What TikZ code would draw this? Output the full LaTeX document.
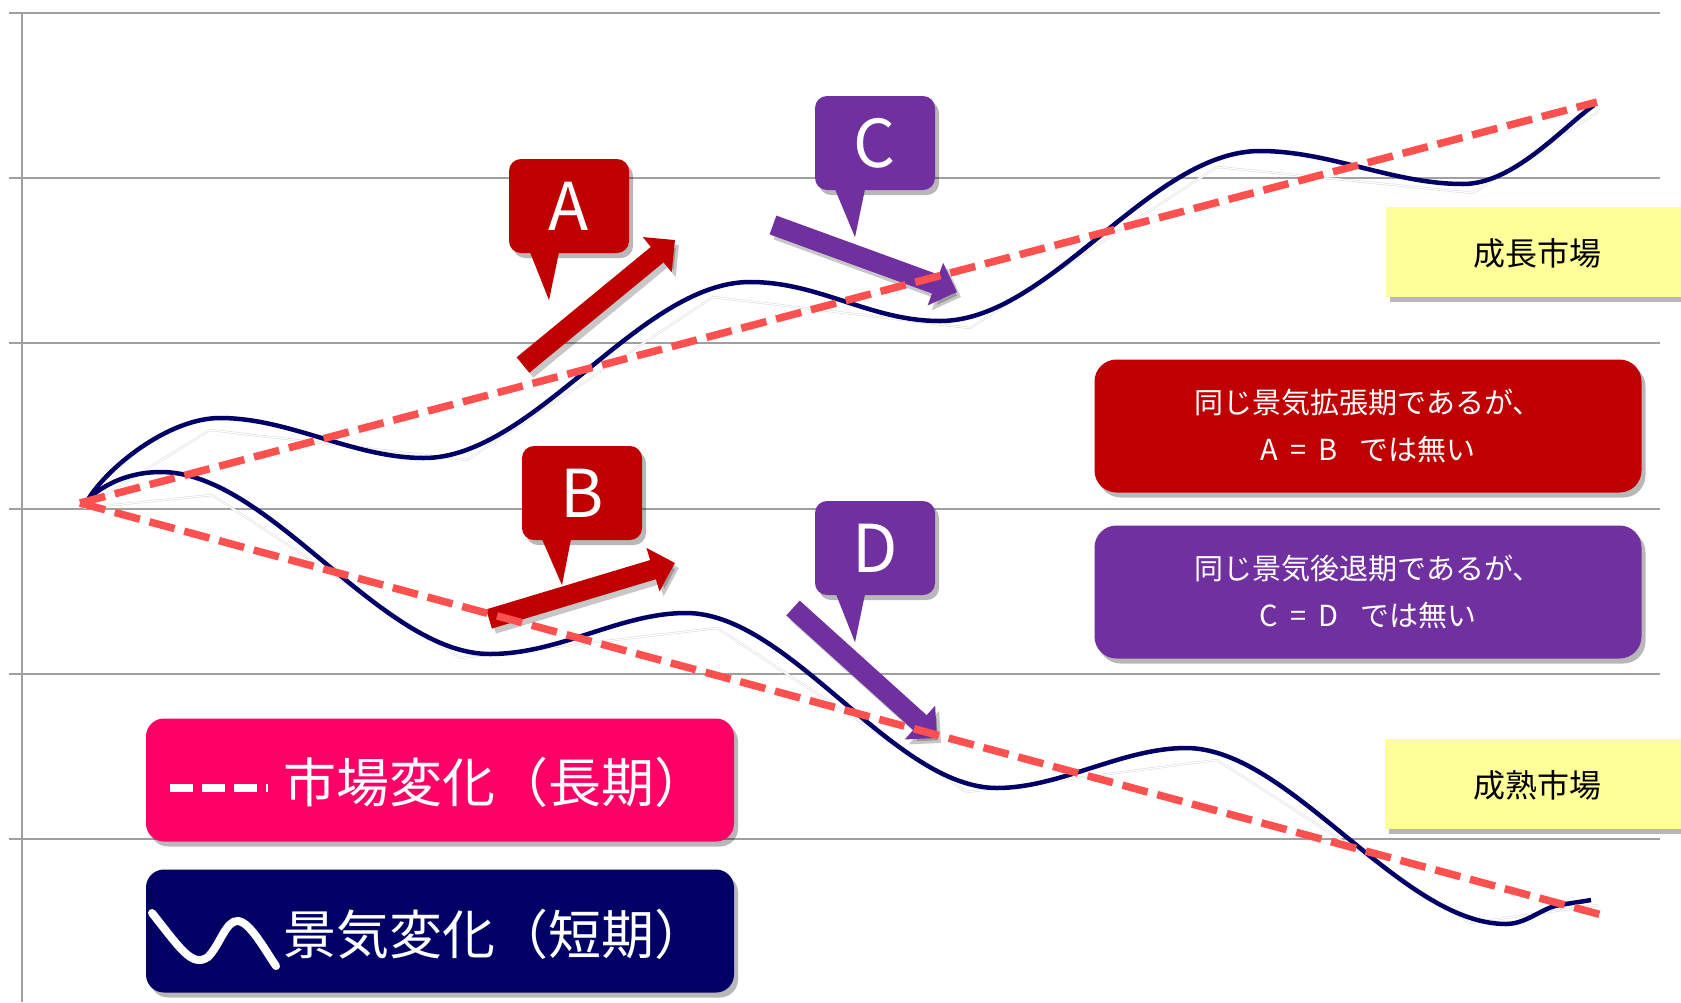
\documentclass[tikz,border=0pt]{standalone}
\usepackage{fontspec}
\setmainfont{Noto Sans CJK JP}
\usetikzlibrary{arrows.meta,shadows}
\definecolor{dred}{HTML}{C00000}
\definecolor{purp}{HTML}{7030A0}
\definecolor{pinkc}{HTML}{FF0066}
\definecolor{navyc}{HTML}{000066}
\definecolor{yelc}{HTML}{FFFF99}
\definecolor{dashc}{HTML}{FF5050}
\definecolor{gridc}{HTML}{A0A0A0}
\newcommand{\eqsp}{\hspace{12pt}}
\begin{document}
\begin{tikzpicture}[x=1pt,y=-1pt,
  gridline/.style={gridc, line width=1.5pt},
  navyline/.style={navyc, line width=4.5pt},
  trendline/.style={dashc, line width=7.5pt, dash pattern=on 26pt off 10pt},
  ghostline/.style={draw=gray!30, double=white, double distance=1.2pt, line width=0.5pt},
  boxshadow/.style={drop shadow={shadow xshift=4pt, shadow yshift=-5pt, fill=black, opacity=0.28}},
  bigarrow/.style={line width=20pt, -{Triangle[length=23pt,width=44pt]}},
  arrowshade/.style={bigarrow, black, opacity=0.22, transform canvas={xshift=4pt,yshift=-5pt}},
  letterbox/.style={rounded corners=12pt, minimum width=120pt, minimum height=94pt, inner sep=0pt, text=white, font=\fontsize{66}{66}\selectfont, boxshadow},
  infobox/.style={rounded corners=22pt, minimum width=547pt, minimum height=133pt, inner sep=0pt, text=white, align=center, font=\fontsize{29}{47}\selectfont, boxshadow},
  yelbox/.style={fill=yelc, minimum width=320pt, minimum height=90pt, inner sep=0pt, boxshadow},
  yeltext/.style={font=\fontsize{32}{32}\selectfont, text=black, inner sep=0pt},
  legbox/.style={rounded corners=18pt, minimum width=588pt, minimum height=123pt, inner sep=0pt, boxshadow},
  legtext/.style={anchor=west, inner sep=0pt, text=white, font=\fontsize{53}{53}\selectfont}
]
\useasboundingbox (0,0) rectangle (1681,1002);
\fill[white] (0,0) rectangle (1681,1002);

% grid
\foreach \yy in {13,178,343,509,674,839}{
  \draw[gridline] (9,\yy) -- (1660,\yy);
}
\draw[gridline] (22,13) -- (22,1002);

% arrow coordinates
\coordinate (a1) at (523,365); \coordinate (a2) at (675,240);
\coordinate (b1) at (489,619); \coordinate (b2) at (675,563);
\coordinate (c1) at (773,225); \coordinate (c2) at (957,292);
\coordinate (d1) at (793,608); \coordinate (d2) at (937,738);

% arrow shadows
\draw[arrowshade] (a1) -- (a2);
\draw[arrowshade] (b1) -- (b2);
\draw[arrowshade] (c1) -- (c2);
\draw[arrowshade] (d1) -- (d2);
% arrows
\draw[bigarrow, dred] (a1) -- (a2);
\draw[bigarrow, dred] (b1) -- (b2);
\draw[bigarrow, purp] (c1) -- (c2);
\draw[bigarrow, purp] (d1) -- (d2);

% faint ghost polylines
\draw[ghostline] (84,508) -- (210,430) -- (467,460) -- (713,297) -- (970,328) -- (1217,167) -- (1473,193) -- (1598,112);
\draw[ghostline] (84,508) -- (212,495) -- (460,658) -- (717,628) -- (967,792) -- (1217,760) -- (1470,923) -- (1598,905);

% short-term curves
\draw[navyline] (89,498) .. controls (110,465) and (170,418) .. (220,418)
  .. controls (290,418) and (353,458) .. (424,458)
  .. controls (534,458) and (640,282) .. (750,282)
  .. controls (820,282) and (870,321) .. (940,321)
  .. controls (1050,321) and (1150,151) .. (1260,151)
  .. controls (1330,151) and (1393,184) .. (1463,184)
  .. controls (1513,184) and (1560,130) .. (1594,105);
\draw[navyline] (89,498) .. controls (110,480) and (135,472) .. (161,472)
  .. controls (270,472) and (380,654) .. (490,654)
  .. controls (560,654) and (620,613) .. (686,613)
  .. controls (790,613) and (893,788) .. (997,788)
  .. controls (1060,788) and (1122,748) .. (1186,748)
  .. controls (1290,748) and (1400,924) .. (1506,924)
  .. controls (1525,924) and (1540,910) .. (1555,906)
  .. controls (1570,903) and (1580,902) .. (1591,900);

% long-term trend lines
\coordinate (o) at (80,503);
\coordinate (up) at (1597,102);
\coordinate (dn) at (1602,915);
\draw[trendline] (o) -- (up);
\draw[trendline] (o) -- (dn);

% callouts
\node[letterbox, fill=dred] (A) at (569,206) {A};
\fill[dred] ([xshift=-39pt,yshift=1pt]A.south) -- ([xshift=-10pt,yshift=1pt]A.south) -- ([xshift=-20pt,yshift=-47pt]A.south) -- cycle;
\node[letterbox, fill=dred] (B) at (582,493) {B};
\fill[dred] ([xshift=-40pt,yshift=1pt]B.south) -- ([xshift=-11pt,yshift=1pt]B.south) -- ([xshift=-20pt,yshift=-45pt]B.south) -- cycle;
\node[letterbox, fill=purp] (C) at (875,143) {C};
\fill[purp] ([xshift=-40pt,yshift=1pt]C.south) -- ([xshift=-10pt,yshift=1pt]C.south) -- ([xshift=-20pt,yshift=-47pt]C.south) -- cycle;
\node[letterbox, fill=purp] (D) at (875,548) {D};
\fill[purp] ([xshift=-39pt,yshift=1pt]D.south) -- ([xshift=-10pt,yshift=1pt]D.south) -- ([xshift=-20pt,yshift=-47pt]D.south) -- cycle;

% info boxes
\node[infobox, fill=dred] (ab) at (1368,426) {同じ景気拡張期であるが、\\A\eqsp=\eqsp B\hspace{22pt}では無い};
\node[infobox, fill=purp] (cd) at (1368,592) {同じ景気後退期であるが、\\C\eqsp=\eqsp D\hspace{22pt}では無い};

% market labels
\node[yelbox] (grow) at (1546,252) {};
\node[yeltext] (growt) at (1537,253) {成長市場};
\node[yelbox] (mature) at (1545,784) {};
\node[yeltext] (maturet) at (1537,785) {成熟市場};

% legend
\node[legbox, fill=pinkc] (leg1) at (440,780) {};
\draw[white, line width=8pt, dash pattern=on 23pt off 9pt] (170,788) -- (268,788);
\node[legtext] (leg1t) at (283,782) {市場変化（長期）};
\node[legbox, fill=navyc] (leg2) at (440,931) {};
\draw[white, line width=8pt, line cap=round] (152,913) .. controls (180,948) and (192,968) .. (208,957)
  .. controls (220,945) and (226,920) .. (238,921)
  .. controls (250,922) and (265,950) .. (276,966);
\node[legtext] (leg2t) at (283,934) {景気変化（短期）};
\end{tikzpicture}
\end{document}
